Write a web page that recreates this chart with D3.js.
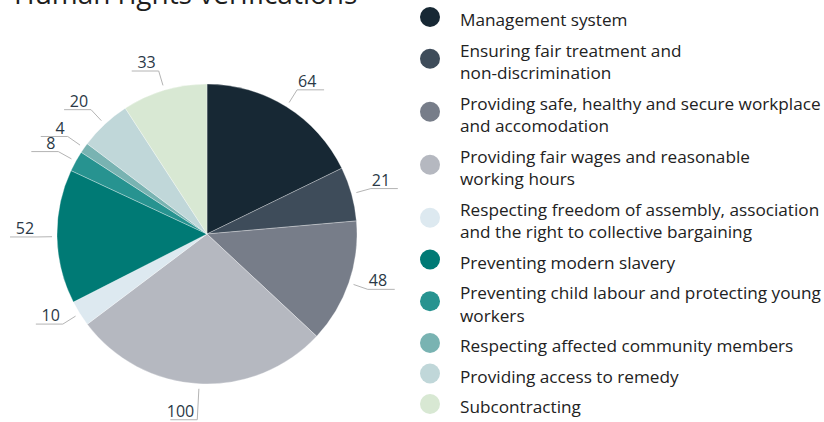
<!DOCTYPE html>
<html>
<head>
<meta charset="utf-8">
<script src="https://cdn.jsdelivr.net/npm/d3@7"></script>
<style>
  body { margin: 0; background: #fff; }
  svg { display: block; font-family: "Open Sans", Lato, sans-serif; }
</style>
</head>
<body>
<svg id="chart" width="824" height="422"></svg>
<script>
// values are degrees of the pie, total 360
const categories = [
  "Management system",
  "Ensuring fair treatment and|non-discrimination",
  "Providing safe, healthy and secure workplace|and accomodation",
  "Providing fair wages and reasonable|working hours",
  "Respecting freedom of assembly, association|and the right to collective bargaining",
  "Preventing modern slavery",
  "Preventing child labour and protecting young|workers",
  "Respecting affected community members",
  "Providing access to remedy",
  "Subcontracting"
];
const values = [64, 21, 48, 100, 10, 52, 8, 4, 20, 33];
const colors = ["#172834", "#3e4c5a", "#777d89", "#b5b8c0", "#dde9f0",
                "#007a75", "#279390", "#79b3b2", "#c0d7d9", "#d8e8d3"];
const title = "Human rights verifications";

const svg = d3.select('#chart');
const cx = 207, cy = 234, r = 150;

svg.append('text')
  .attr('x', 14).attr('y', 4)
  .attr('font-size', 28)
  .attr('fill', '#1e1e1e')
  .text(title);

const pie = d3.pie().sort(null).value(d => d);
const arc = d3.arc().innerRadius(0).outerRadius(r);
const arcs = pie(values);

let g = svg.append('g').attr('transform', `translate(${cx},${cy})`);

g.selectAll('path.slice')
  .data(arcs)
  .join('path')
  .classed('slice', true)
  .attr('d', arc)
  .attr('fill', (d, i) => colors[i])
  .attr('stroke', '#ffffff')
  .attr('stroke-opacity', 0.5)
  .attr('stroke-width', 0.6);

// leader lines + value labels
const inner = d3.arc().innerRadius(r + 5).outerRadius(r + 5);
const outer = d3.arc().innerRadius(r + 20).outerRadius(r + 20);
const hlen = 27;

arcs.forEach((d, i) => {
  let mid = (d.startAngle + d.endAngle) / 2;
  let a = { startAngle: mid, endAngle: mid };
  let p0 = inner.centroid(a);
  let p1 = outer.centroid(a);
  // the big bottom slice gets a longer leader in the original
  if (d.data === 100) p1 = d3.arc().innerRadius(r + 36).outerRadius(r + 36).centroid(a);
  let side = Math.sin(mid) >= 0 ? 1 : -1;
  let p2 = [p1[0] + side * hlen, p1[1]];
  g.append('polyline')
    .attr('points', [p0, p1, p2].map(p => p.join(',')).join(' '))
    .attr('fill', 'none')
    .attr('stroke', '#b4b4b4')
    .attr('stroke-width', 1);
  g.append('text')
    .attr('x', side > 0 ? p1[0] + 1 : p1[0] - 3)
    .attr('y', p1[1] - 3)
    .attr('text-anchor', side > 0 ? 'start' : 'end')
    .attr('font-size', 16)
    .attr('fill', '#2a3846')
    .text(d.data);
});

// legend
const legend = svg.append('g').attr('transform', 'translate(430,0)');
const lineH = 22.5, gap = 30.5;
let y = 26;
categories.forEach((c, i) => {
  let lines = c.split('|');
  let item = legend.append('g');
  lines.forEach((ln, j) => {
    item.append('text')
      .attr('x', 30)
      .attr('y', y + j * lineH)
      .attr('font-size', 17.2)
      .attr('fill', '#222')
      .text(ln);
  });
  let midY = y - 9 + (lines.length - 1) * lineH / 2;
  item.append('circle')
    .attr('cx', 0)
    .attr('cy', midY)
    .attr('r', 10)
    .attr('fill', colors[i]);
  y += (lines.length - 1) * lineH + gap;
});
</script>
</body>
</html>
